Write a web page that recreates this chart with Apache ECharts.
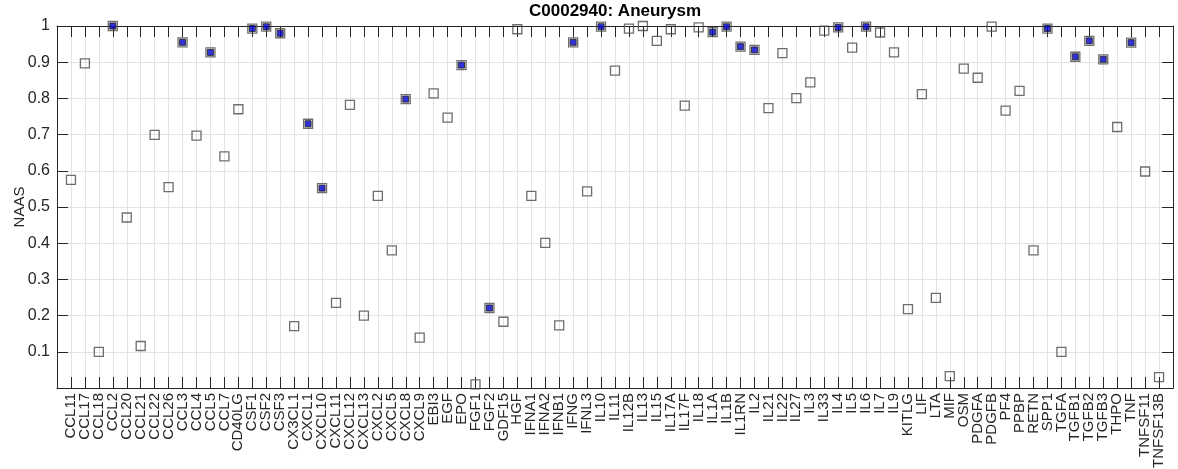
<!DOCTYPE html>
<html>
<head>
<meta charset="utf-8">
<script src="https://cdn.jsdelivr.net/npm/echarts@6/dist/echarts.min.js"></script>
<style>
html,body{margin:0;padding:0;background:#fff;}
#chart{width:1178px;height:469px;}
</style>
</head>
<body>
<div id="chart"></div>
<script>
const categories = ["CCL11","CCL17","CCL18","CCL2","CCL20","CCL21","CCL22","CCL26","CCL3","CCL4","CCL5","CCL7","CD40LG","CSF1","CSF2","CSF3","CX3CL1","CXCL1","CXCL10","CXCL11","CXCL12","CXCL13","CXCL2","CXCL5","CXCL8","CXCL9","EBI3","EGF","EPO","FGF1","FGF2","GDF15","HGF","IFNA1","IFNA2","IFNB1","IFNG","IFNL3","IL10","IL11","IL12B","IL13","IL15","IL17A","IL17F","IL18","IL1A","IL1B","IL1RN","IL2","IL21","IL22","IL27","IL3","IL33","IL4","IL5","IL6","IL7","IL9","KITLG","LIF","LTA","MIF","OSM","PDGFA","PDGFB","PF4","PPBP","RETN","SPP1","TGFA","TGFB1","TGFB2","TGFB3","THPO","TNF","TNFSF11","TNFSF13B"];

const naas = [0.575,0.897,0.100,1.000,0.471,0.116,0.699,0.555,0.955,0.697,0.927,0.640,0.770,0.993,0.998,0.980,0.171,0.730,0.552,0.235,0.782,0.200,0.531,0.380,0.798,0.139,0.814,0.747,0.892,0.010,0.221,0.183,0.991,0.531,0.401,0.173,0.955,0.543,0.998,0.877,0.993,1.000,0.959,0.991,0.780,0.996,0.983,0.998,0.943,0.934,0.773,0.925,0.801,0.844,0.987,0.996,0.940,0.998,0.982,0.927,0.218,0.812,0.249,0.033,0.882,0.857,0.998,0.766,0.821,0.380,0.993,0.100,0.915,0.959,0.908,0.721,0.954,0.598,0.030];

const highlighted = ["CCL2","CCL3","CCL5","CSF1","CSF2","CSF3","CXCL1","CXCL10","CXCL8","EPO","FGF2","IFNG","IL10","IL1A","IL1B","IL1RN","IL2","IL4","IL6","SPP1","TGFB1","TGFB2","TGFB3","TNF"];

const yTicks = [0.1,0.2,0.3,0.4,0.5,0.6,0.7,0.8,0.9,1];

const titleText = "C0002940: Aneurysm";
const yLabel = "NAAS";

const FONT = '"Liberation Sans", Arial, Helvetica, sans-serif';
const AX = '#262626';

const allPts = categories.map((c, i) => [i + 1, naas[i]]);
const hiPts = categories.map((c, i) => highlighted.indexOf(c) >= 0 ? [i + 1, naas[i]] : null).filter(p => p);

const xCommon = {
  type: 'value', min: 0, max: categories.length + 1, interval: 1,
  axisLine: { show: true, onZero: false, lineStyle: { color: AX, width: 1 } },
  axisTick: { show: true, inside: true, length: 11, lineStyle: { color: AX, width: 1 } }
};
const yCommon = {
  type: 'value', min: 0, max: 1, interval: 0.1,
  axisLine: { show: true, onZero: false, lineStyle: { color: AX, width: 1 } },
  axisTick: { show: true, inside: true, length: 11, lineStyle: { color: AX, width: 1 } }
};

const chart = echarts.init(document.getElementById('chart'), null, { renderer: 'canvas' });
chart.setOption({
  animation: false,
  backgroundColor: '#fff',
  title: {
    text: titleText, left: 615, top: 3, textAlign: 'center', padding: 0,
    textStyle: { fontFamily: FONT, fontSize: 17, fontWeight: 'bold', color: '#000' }
  },
  grid: { left: 57, right: 5, top: 26, bottom: 81, containLabel: false, outerBoundsMode: 'none' },
  xAxis: [
    Object.assign({}, xCommon, {
      position: 'bottom',
      splitLine: { show: true, lineStyle: { color: '#e3e3e3', width: 1 } },
      axisLabel: {
        show: true, rotate: 90, margin: 5, interval: 0,
        fontFamily: FONT, fontSize: 15, color: AX,
        formatter: v => (v >= 1 && v <= categories.length) ? categories[v - 1] : ''
      }
    }),
    Object.assign({}, xCommon, {
      position: 'top',
      splitLine: { show: false },
      axisLabel: { show: false }
    })
  ],
  yAxis: [
    Object.assign({}, yCommon, {
      position: 'left',
      name: yLabel, nameLocation: 'middle', nameGap: 30, nameRotate: 90, nameMoveOverlap: false,
      nameTextStyle: { fontFamily: FONT, fontSize: 15, color: AX },
      splitLine: { show: true, lineStyle: { color: '#e3e3e3', width: 1 } },
      axisLabel: {
        show: true, margin: 7, fontFamily: FONT, fontSize: 16, color: AX,
        showMinLabel: false,
        formatter: v => {
          const t = yTicks.find(k => Math.abs(k - v) < 1e-6);
          return t === undefined ? '' : String(t);
        }
      }
    }),
    Object.assign({}, yCommon, {
      position: 'right',
      splitLine: { show: false },
      axisLabel: { show: false }
    })
  ],
  series: [
    {
      type: 'scatter', xAxisIndex: 0, yAxisIndex: 0, clip: false,
      symbol: 'rect', symbolSize: 9,
      itemStyle: { color: 'rgba(255,255,255,0)', borderColor: '#4a4a4a', borderWidth: 1.3 },
      data: allPts, z: 3
    },
    {
      type: 'scatter', xAxisIndex: 0, yAxisIndex: 0, clip: false,
      symbol: 'rect', symbolSize: 6,
      itemStyle: { color: '#0000d0', borderColor: '#1a1a1a', borderWidth: 1 },
      data: hiPts, z: 4
    }
  ]
});
</script>
</body>
</html>
